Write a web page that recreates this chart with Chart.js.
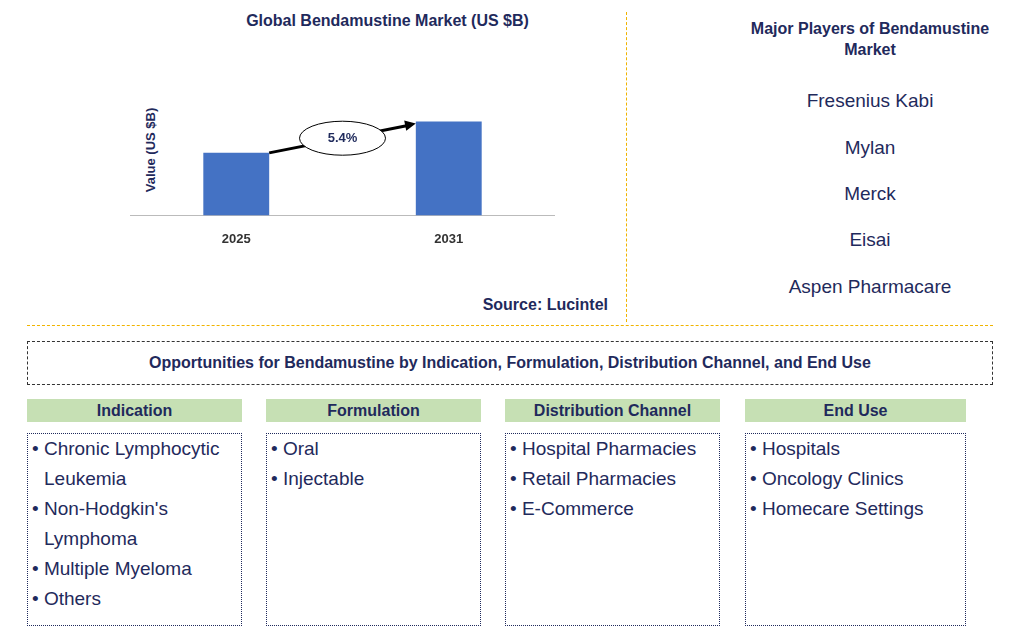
<!DOCTYPE html>
<html><head><meta charset="utf-8">
<script src="https://cdn.jsdelivr.net/npm/chart.js@4"></script>
<style>
body{margin:0;width:1026px;height:639px;background:#fff;font-family:"Liberation Sans",Arial,sans-serif;position:relative;overflow:hidden;color:#1f2a5c}
.a{position:absolute}
.t{font-weight:bold;font-size:16px;color:#1f2a5c;text-align:center}
.pl{position:absolute;left:720px;width:300px;text-align:center;font-size:19px;color:#1f2a5c}
.h{position:absolute;top:399px;height:23px;background:#c6e0b4;font-weight:bold;font-size:16px;text-align:center;line-height:23px;color:#1f2a5c}
.b{position:absolute;top:433px;height:193px;border:1px dotted #1f2a5c;box-sizing:border-box;font-size:19px;line-height:30px;padding:0 4px;color:#1f2a5c}
.b div{padding-left:12px;text-indent:-12px}
</style></head><body>
<div class="a t" style="left:130px;width:515px;top:12px">Global Bendamustine Market (US $B)</div>
<div class="a" style="left:626px;top:12px;height:310px;border-left:1px dashed #f0b400"></div>
<div class="a" style="left:27px;top:325px;width:966px;border-top:1px dashed #f0b400"></div>
<div class="a" style="left:150px;top:150px;transform:translate(-50%,-50%) rotate(-90deg);font-weight:bold;font-size:13px;white-space:nowrap">Value (US $B)</div>
<div class="a" style="left:130px;top:95px;width:425px;height:160px"><canvas id="c"></canvas></div>
<div class="a" style="left:400px;width:208px;top:296px;text-align:right;font-weight:bold;font-size:16px">Source: Lucintel</div>
<div class="a t" style="left:720px;width:300px;top:18px;line-height:21px">Major Players of Bendamustine<br>Market</div>
<div id="players"></div>
<div class="a t" style="left:27px;top:341px;width:966px;height:44px;border:1px dashed #333;box-sizing:border-box;line-height:42px">Opportunities for Bendamustine by Indication, Formulation, Distribution Channel, and End Use</div>
<div id="seg"></div>
<script>
const years=["2025","2031"];
const values=[2.0,3.0];
const cagr="5.4%";
const players=["Fresenius Kabi","Mylan","Merck","Eisai","Aspen Pharmacare"];
const segTitles=["Indication","Formulation","Distribution Channel","End Use"];
const segItems=[["Chronic Lymphocytic Leukemia","Non-Hodgkin's Lymphoma","Multiple Myeloma","Others"],["Oral","Injectable"],["Hospital Pharmacies","Retail Pharmacies","E-Commerce"],["Hospitals","Oncology Clinics","Homecare Settings"]];
const pTop=[90,137,183,229,276];
players.forEach((p,i)=>{const d=document.createElement('div');d.className='pl';d.style.top=pTop[i]+'px';d.textContent=p;document.body.appendChild(d);});
const xs=[27,266,505,745],ws=[215,215,215,221];
segTitles.forEach((t,i)=>{
 const h=document.createElement('div');h.className='h';h.style.left=xs[i]+'px';h.style.width=ws[i]+'px';h.textContent=t;document.body.appendChild(h);
 const b=document.createElement('div');b.className='b';b.style.left=xs[i]+'px';b.style.width=ws[i]+'px';
 b.innerHTML=segItems[i].map(s=>'<div>• '+s+'</div>').join('');document.body.appendChild(b);
});
const arrow={id:'arrow',afterDatasetsDraw(ch){
 const ctx=ch.ctx,m=ch.getDatasetMeta(0).data;
 const x1=m[0].x+m[0].width/2,y1=m[0].y,x2=m[1].x-m[1].width/2,y2=m[1].y+2;
 ctx.save();ctx.strokeStyle='#000';ctx.lineWidth=3;ctx.beginPath();ctx.moveTo(x1,y1);ctx.lineTo(x2-8,y2+2);ctx.stroke();
 const ang=Math.atan2(y2-y1,x2-x1);ctx.fillStyle='#000';ctx.beginPath();ctx.moveTo(x2,y2);
 ctx.lineTo(x2-12*Math.cos(ang-0.45),y2-12*Math.sin(ang-0.45));ctx.lineTo(x2-12*Math.cos(ang+0.45),y2-12*Math.sin(ang+0.45));ctx.fill();
 const cx=(x1+x2)/2,cy=(y1+y2)/2;ctx.fillStyle='#fff';ctx.lineWidth=1;ctx.beginPath();ctx.ellipse(cx,cy,43,17,0,0,Math.PI*2);ctx.fill();ctx.stroke();
 ctx.fillStyle='#1f2a5c';ctx.font='bold 13px "Liberation Sans"';ctx.textAlign='center';ctx.textBaseline='middle';ctx.fillText(cagr,cx,cy);ctx.restore();
}};
new Chart(document.getElementById('c'),{type:'bar',data:{labels:years,datasets:[{data:values,backgroundColor:'#4472c4',barPercentage:0.31,categoryPercentage:1}]},
options:{responsive:true,maintainAspectRatio:false,animation:false,layout:{padding:0},plugins:{legend:{display:false},tooltip:{enabled:false}},
scales:{y:{display:false,min:0,max:3.85},x:{grid:{display:false},border:{color:'#bbb'},ticks:{color:'#333',font:{weight:'bold',size:13,family:'Liberation Sans'},padding:8}}}},
plugins:[arrow]});
</script></body></html>
